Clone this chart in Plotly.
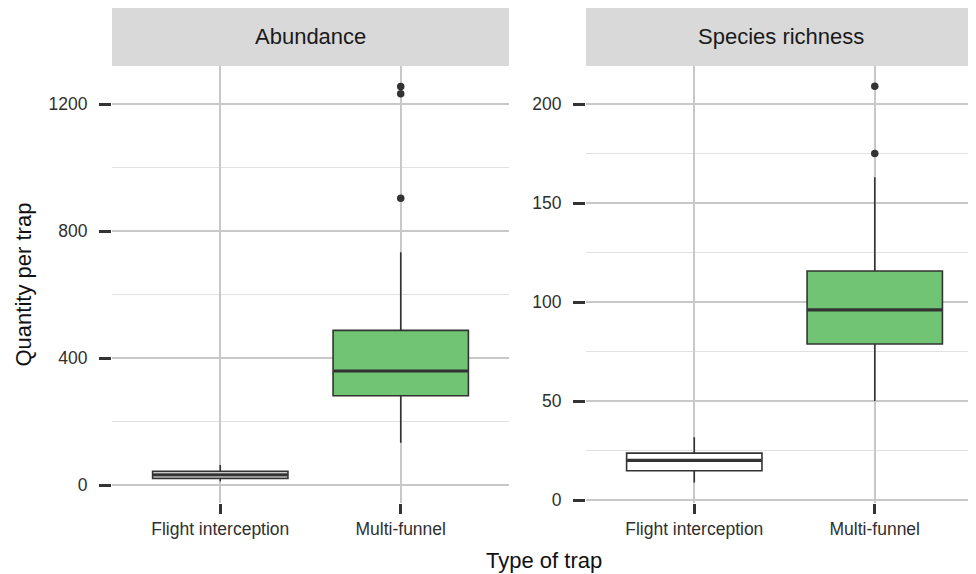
import plotly.graph_objects as go

categories = ["Flight interception", "Multi-funnel"]

# Abundance box statistics
ab_q1 = [21, 281]
ab_median = [32, 359]
ab_q3 = [43, 487]
ab_lower = [12, 133]
ab_upper = [63, 733]
ab_out_x = ["Multi-funnel", "Multi-funnel", "Multi-funnel"]
ab_out_y = [1255, 1232, 903]

# Species richness box statistics
sr_q1 = [14.8, 78.8]
sr_median = [20, 96]
sr_q3 = [23.7, 115.7]
sr_lower = [8.9, 50]
sr_upper = [31.7, 163]
sr_out_x = ["Multi-funnel", "Multi-funnel"]
sr_out_y = [209, 175]

fills = ["#FFFFFF", "#71C473"]
dark = "#333333"

# page has an 8px body margin, so the figure is sized to fit the window
W, H = 968, 566
ml, mr, mt, mb = 104, 0, 0, 71
pw = W - ml - mr
ph = H - mt - mb
dom_left = [0, 397 / pw]
dom_right = [474 / pw, 1]
ytop = 437 / ph

fig = go.Figure()

def add_panel(xa, ya, q1, med, q3, lo, up, ox, oy):
    for i, c in enumerate(categories):
        fig.add_trace(go.Box(
            x=[c], q1=[q1[i]], median=[med[i]], q3=[q3[i]],
            lowerfence=[lo[i]], upperfence=[up[i]],
            fillcolor=fills[i], line=dict(color=dark, width=1.6),
            whiskerwidth=0, width=0.75, boxpoints=False,
            xaxis=xa, yaxis=ya, showlegend=False, hoverinfo="skip"))
    fig.add_trace(go.Scatter(
        x=categories, y=med, mode="markers",
        marker=dict(symbol="line-ew", size=96, line=dict(color=dark, width=3.2)),
        xaxis=xa, yaxis=ya, showlegend=False, hoverinfo="skip"))
    fig.add_trace(go.Scatter(
        x=ox, y=oy, mode="markers",
        marker=dict(color=dark, size=7.5),
        xaxis=xa, yaxis=ya, showlegend=False, hoverinfo="skip"))

add_panel("x", "y", ab_q1, ab_median, ab_q3, ab_lower, ab_upper, ab_out_x, ab_out_y)
add_panel("x2", "y2", sr_q1, sr_median, sr_q3, sr_lower, sr_upper, sr_out_x, sr_out_y)

font = "Liberation Sans, Arial, sans-serif"
xcommon = dict(type="category", categoryorder="array", categoryarray=categories,
               showgrid=True, gridcolor="#C8C8C8", gridwidth=1.5, zeroline=False,
               ticks="outside", ticklen=10, tickwidth=3, tickcolor=dark,
               tickfont=dict(family=font, size=17.5, color="#303030"), showline=False)
ycommon = dict(showgrid=True, gridcolor="#C8C8C8", gridwidth=1.5, zeroline=False,
               ticks="outside", ticklen=12, tickwidth=3, tickcolor=dark,
               ticklabelstandoff=8,
               tickfont=dict(family=font, size=17.5, color="#303030"), showline=False)

fig.update_layout(
    width=W, height=H,
    margin=dict(l=ml, r=mr, t=mt, b=mb, autoexpand=False),
    plot_bgcolor="white", paper_bgcolor="white",
    xaxis=dict(domain=dom_left, range=[-0.6, 1.6], anchor="y", **xcommon),
    xaxis2=dict(domain=dom_right, range=[-0.6, 1.561], anchor="y2", **xcommon),
    yaxis=dict(domain=[0, ytop], range=[-56.7, 1319.7], tickvals=[0, 400, 800, 1200],
               minor=dict(dtick=200, tick0=0, showgrid=True, gridcolor="#E0E0E0", gridwidth=1.2),
               anchor="x", **ycommon),
    yaxis2=dict(domain=[0, ytop], range=[-1.5, 219.2], tickvals=[0, 50, 100, 150, 200],
                minor=dict(dtick=25, tick0=0, showgrid=True, gridcolor="#E0E0E0", gridwidth=1.2),
                anchor="x2", **ycommon),
    showlegend=False,
)

for xd in ["x domain", "x2 domain"]:
    fig.add_shape(type="rect", xref=xd, yref="paper", x0=0, x1=1, y0=ytop, y1=1,
                  fillcolor="#D9D9D9", line=dict(width=0), layer="below")

fig.add_annotation(x=0.5, y=(ytop + 1) / 2, xref="x domain", yref="paper", text="Abundance",
                   showarrow=False, font=dict(family=font, size=22, color="#1A1A1A"),
                   xanchor="center", yanchor="middle")
fig.add_annotation(x=0.5, y=(ytop + 1) / 2, xref="x2 domain", yref="paper", text="Species richness",
                   showarrow=False, font=dict(family=font, size=22, color="#1A1A1A"),
                   xanchor="center", yanchor="middle")
fig.add_annotation(x=0.5, y=-(552 - 495) / ph, xref="paper", yref="paper", text="Type of trap",
                   showarrow=False, font=dict(family=font, size=22, color="#111111"),
                   xanchor="center", yanchor="middle")
fig.add_annotation(x=-(104 - 15) / pw, y=ytop / 2, xref="paper", yref="paper", text="Quantity per trap",
                   textangle=-90, showarrow=False, font=dict(family=font, size=22, color="#111111"),
                   xanchor="center", yanchor="middle")

fig.write_html("out.html")
